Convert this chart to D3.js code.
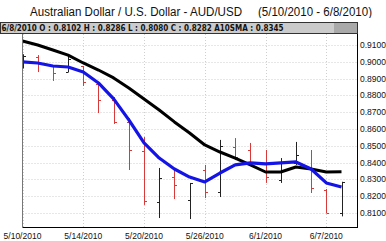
<!DOCTYPE html>
<html>
<head>
<meta charset="utf-8">
<script src="https://cdn.jsdelivr.net/npm/d3@7"></script>
<style>
  body { margin: 0; background: #fff; }
  svg { display: block; font-family: "Liberation Sans", Arial, sans-serif; }
</style>
</head>
<body>
<div id="container"></div>
<script>
// trading days shown on the chart
const dates = ["5/10/2010", "5/11/2010", "5/12/2010", "5/13/2010", "5/14/2010",
               "5/17/2010", "5/18/2010", "5/19/2010", "5/20/2010", "5/21/2010",
               "5/24/2010", "5/25/2010", "5/26/2010", "5/27/2010", "5/28/2010",
               "5/31/2010", "6/1/2010", "6/2/2010", "6/3/2010", "6/4/2010",
               "6/7/2010", "6/8/2010"];
const open  = [0.8990, 0.9030, 0.8975, 0.8939, 0.8975, 0.8870, 0.8770, 0.8640, 0.8470, 0.8165, 0.8314,
               0.8180, 0.8356, 0.8225, 0.8493, 0.8475, 0.8398, 0.8297, 0.8398, 0.8374, 0.8237, 0.8102];
const high  = [0.9045, 0.9040, 0.8981, 0.9029, 0.8975, 0.8880, 0.8790, 0.8665, 0.8552, 0.8368, 0.8356,
               0.8279, 0.8386, 0.8535, 0.8546, 0.8517, 0.8475, 0.8427, 0.8523, 0.8475, 0.8243, 0.8286];
const low   = [0.8960, 0.8939, 0.8886, 0.8939, 0.8856, 0.8695, 0.8630, 0.8356, 0.8148, 0.8070, 0.8183,
               0.8064, 0.8189, 0.8195, 0.8415, 0.8386, 0.8279, 0.8279, 0.8386, 0.8219, 0.8100, 0.8080];
const close = [0.9033, 0.8993, 0.8933, 0.9015, 0.8880, 0.8773, 0.8642, 0.8475, 0.8171, 0.8308, 0.8267,
               0.8276, 0.8225, 0.8500, 0.8433, 0.8400, 0.8314, 0.8398, 0.8445, 0.8249, 0.8100, 0.8282];
// 10 day SMA (black) and the shorter average (blue)
const sma10 = [0.9124, 0.9100, 0.9070, 0.9040, 0.8993, 0.8951, 0.8904, 0.8844, 0.8779, 0.8713, 0.8642,
               0.8576, 0.8505, 0.8463, 0.8427, 0.8386, 0.8344, 0.8344, 0.8374, 0.8362, 0.8344, 0.8345];
const fast  = [0.8999, 0.8993, 0.8975, 0.8969, 0.8939, 0.8874, 0.8779, 0.8654, 0.8517, 0.8427, 0.8362,
               0.8314, 0.8285, 0.8338, 0.8386, 0.8398, 0.8392, 0.8398, 0.8404, 0.8362, 0.8279, 0.8255];
const xLabels = ["5/10/2010", "5/14/2010", "5/20/2010", "5/26/2010", "6/1/2010", "6/7/2010"];
const yTicks = [0.81, 0.82, 0.83, 0.84, 0.85, 0.86, 0.87, 0.88, 0.89, 0.90, 0.91];

const W = 386, H = 241;
const plotLeft = 22.5, plotRight = 357, plotTop = 34, plotBottom = 227;

const svg = d3.select("#container").append("svg")
    .attr("width", W)
    .attr("height", H);

const x = d3.scalePoint()
    .domain(dates)
    .range([22.5, 341.5]);

const y = d3.scaleLinear()
    .domain([0.81, 0.91])
    .range([213, 45]);

// title
svg.append("text")
    .attr("x", 30).attr("y", 16)
    .attr("font-size", 12)
    .attr("textLength", 212).attr("lengthAdjust", "spacingAndGlyphs")
    .attr("fill", "#111")
    .text("Australian Dollar / U.S. Dollar -  AUD/USD");
svg.append("text")
    .attr("x", 258).attr("y", 16)
    .attr("font-size", 12)
    .attr("textLength", 114).attr("lengthAdjust", "spacingAndGlyphs")
    .attr("fill", "#111")
    .text("(5/10/2010 - 6/8/2010)");

// grid
const grid = svg.append("g");
grid.selectAll("line.h")
    .data(yTicks)
    .enter().append("line")
    .attr("x1", plotLeft).attr("x2", plotRight)
    .attr("y1", d => Math.round(y(d)) + 0.5)
    .attr("y2", d => Math.round(y(d)) + 0.5)
    .attr("stroke", "#cfcfcf")
    .attr("stroke-dasharray", "1,2");
grid.selectAll("line.v")
    .data(xLabels)
    .enter().append("line")
    .attr("x1", d => Math.round(x(d)) + 0.5)
    .attr("x2", d => Math.round(x(d)) + 0.5)
    .attr("y1", plotTop).attr("y2", plotBottom)
    .attr("stroke", "#cfcfcf")
    .attr("stroke-dasharray", "1,2");

// OHLC bars
const bars = svg.append("g");
dates.forEach((d, i) => {
    const cx = Math.round(x(d)) + 0.5;
    const col = close[i] >= open[i] ? "#222" : "#d83a3a";
    bars.append("line")
        .attr("x1", cx).attr("x2", cx)
        .attr("y1", y(high[i])).attr("y2", y(low[i]))
        .attr("stroke", col).attr("stroke-width", 1);
    bars.append("line")
        .attr("x1", cx - 2.5).attr("x2", cx)
        .attr("y1", Math.round(y(open[i])) + 0.5).attr("y2", Math.round(y(open[i])) + 0.5)
        .attr("stroke", col);
    bars.append("line")
        .attr("x1", cx).attr("x2", cx + 2.5)
        .attr("y1", Math.round(y(close[i])) + 0.5).attr("y2", Math.round(y(close[i])) + 0.5)
        .attr("stroke", col);
});

// moving averages
const line = d3.line()
    .x((d, i) => x(dates[i]))
    .y(d => y(d));

svg.append("path")
    .datum(sma10)
    .attr("fill", "none")
    .attr("stroke", "#000")
    .attr("stroke-width", 3)
    .attr("stroke-linejoin", "round")
    .attr("d", line);

svg.append("path")
    .datum(fast)
    .attr("fill", "none")
    .attr("stroke", "#1414e6")
    .attr("stroke-width", 3.2)
    .attr("stroke-linejoin", "round")
    .attr("d", line);

// cover anything drawn above the header / left of the frame
svg.append("rect")
    .attr("x", 0).attr("y", 0).attr("width", plotLeft).attr("height", plotBottom)
    .attr("fill", "#fff");
svg.append("rect")
    .attr("x", 0).attr("y", 18).attr("width", W).attr("height", 16)
    .attr("fill", "#fff");

// frame
svg.append("line")
    .attr("x1", plotLeft).attr("x2", plotLeft).attr("y1", plotTop).attr("y2", plotBottom)
    .attr("stroke", "#777");
svg.append("line")
    .attr("x1", plotLeft).attr("x2", plotRight).attr("y1", plotBottom + 0.5).attr("y2", plotBottom + 0.5)
    .attr("stroke", "#000");
svg.append("line")
    .attr("x1", plotRight + 0.5).attr("x2", plotRight + 0.5).attr("y1", 22).attr("y2", plotBottom + 1)
    .attr("stroke", "#000");

// header box
svg.append("rect")
    .attr("x", 0.5).attr("y", 22.5).attr("width", plotRight).attr("height", 11)
    .attr("fill", "#cbcbcb")
    .attr("stroke", "#333");
svg.append("rect")
    .attr("x", 334).attr("y", 23).attr("width", plotRight - 334).attr("height", 10)
    .attr("fill", "#a9a9a9");
svg.append("text")
    .attr("x", 1.5).attr("y", 31)
    .attr("font-family", "'DejaVu Sans', sans-serif")
    .attr("font-size", 8).attr("font-weight", "bold")
    .attr("textLength", 282).attr("lengthAdjust", "spacingAndGlyphs")
    .attr("fill", "#111")
    .text("6/8/2010 O : 0.8102 H : 0.8286 L : 0.8080 C : 0.8282 A10SMA : 0.8345");

// right axis labels
svg.append("g").selectAll("text")
    .data(yTicks)
    .enter().append("text")
    .attr("x", 360)
    .attr("y", d => y(d) + 3)
    .attr("font-size", 8.5)
    .attr("fill", "#111")
    .text(d => d3.format(".4f")(d));

// bottom labels
svg.append("g").selectAll("text")
    .data(xLabels)
    .enter().append("text")
    .attr("x", d => x(d))
    .attr("y", 239)
    .attr("text-anchor", "middle")
    .attr("font-size", 8.5)
    .attr("fill", "#111")
    .text(d => d);
</script>
</body>
</html>
